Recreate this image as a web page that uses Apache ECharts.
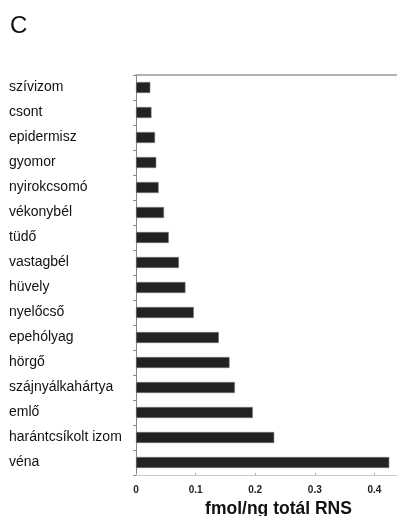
<!DOCTYPE html>
<html>
<head>
<meta charset="utf-8">
<script src="https://cdn.jsdelivr.net/npm/echarts@6/dist/echarts.min.js"></script>
<style>
  html, body { margin: 0; padding: 0; background: #fff; }
  #chart { width: 397px; height: 516px; }
</style>
</head>
<body>
<div id="chart"></div>
<script>
// Tissue names, top to bottom
const tissues = [
  'szívizom', 'csont', 'epidermisz', 'gyomor', 'nyirokcsomó', 'vékonybél',
  'tüdő', 'vastagbél', 'hüvely', 'nyelőcső', 'epehólyag', 'hörgő',
  'szájnyálkahártya', 'emlő', 'harántcsíkolt izom', 'véna'
];
// Expression level, fmol/ng total RNA
const values = [
  0.024, 0.026, 0.032, 0.034, 0.038, 0.047,
  0.055, 0.072, 0.083, 0.097, 0.139, 0.157,
  0.166, 0.196, 0.232, 0.425
];
const axisTitle = 'fmol/ng totál RNS';
const panelLabel = 'C';

const font = '"Liberation Sans", Arial, sans-serif';
const chart = echarts.init(document.getElementById('chart'));
chart.setOption({
  animation: false,
  title: {
    text: panelLabel, left: 5, top: 9,
    textStyle: { fontFamily: font, fontSize: 24, fontWeight: 'normal', color: '#111' }
  },
  grid: { left: 136, right: 0, top: 75, bottom: 41, outerBoundsMode: 'none', containLabel: false },
  xAxis: [{
    type: 'value', min: 0, max: 0.438, interval: 0.1,
    axisLine: { show: true, lineStyle: { color: '#ccc', width: 1 } },
    axisTick: { show: true, inside: true, length: 2, lineStyle: { color: '#aaa' } },
    splitLine: { show: false },
    axisLabel: {
      margin: 10, fontFamily: font, fontSize: 10, fontWeight: 'bold', color: '#222',
      formatter: v => (v > 0.41 ? '' : String(Math.round(v * 10) / 10))
    },
    name: axisTitle, nameLocation: 'middle', nameGap: 25,
    nameTextStyle: { fontFamily: font, fontSize: 17.5, fontWeight: 'bold', color: '#111', padding: [0, 0, 0, 24] }
  }, {
    type: 'value', position: 'top', min: 0, max: 0.438,
    axisLine: { show: true, lineStyle: { color: '#999', width: 1.5 } },
    axisTick: { show: false }, axisLabel: { show: false }, splitLine: { show: false }
  }],
  yAxis: {
    type: 'category', data: tissues, inverse: true,
    axisLine: { show: true, lineStyle: { color: '#888', width: 1 } },
    axisTick: { show: true, length: 3, lineStyle: { color: '#888' } },
    axisLabel: {
      align: 'left', margin: 127, fontFamily: font, fontSize: 14, color: '#111'
    }
  },
  series: [{
    type: 'bar', data: values, barWidth: 11, xAxisIndex: 0,
    itemStyle: { color: '#222', borderColor: '#777', borderWidth: 0.6 }
  }]
});
</script>
</body>
</html>
